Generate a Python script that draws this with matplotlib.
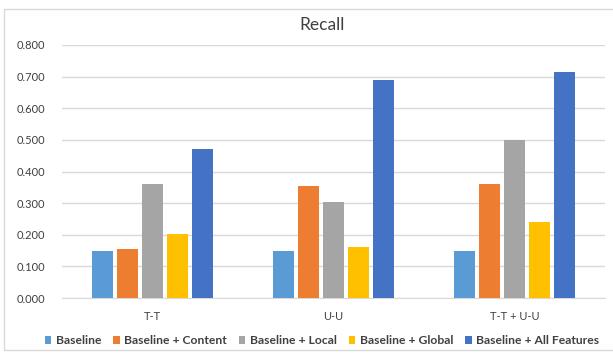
import matplotlib
matplotlib.use("Agg")
import matplotlib.pyplot as plt
import numpy as np
from matplotlib.patches import Rectangle

plt.rcParams['font.family'] = ['Lato', 'DejaVu Sans']

categories = ['T-T', 'U-U', 'T-T + U-U']
series = ['Baseline', 'Baseline + Content', 'Baseline + Local',
          'Baseline + Global', 'Baseline + All Features']
baseline = [0.150, 0.150, 0.150]
content = [0.155, 0.355, 0.362]
local = [0.360, 0.305, 0.500]
global_ = [0.202, 0.160, 0.240]
all_features = [0.470, 0.688, 0.713]
values = [baseline, content, local, global_, all_features]
colors = ['#5B9BD5', '#ED7D31', '#A5A5A5', '#FFC000', '#4472C4']

fig = plt.figure(figsize=(6.13, 3.54), dpi=100)
ax = fig.add_axes([0.101, 0.158, 0.886, 0.715])

x = np.arange(len(categories))
step = 0.138
width = 0.117
for i, (name, vals, c) in enumerate(zip(series, values, colors)):
    ax.bar(x + (i - 2) * step, vals, width=width, color=c, label=name, zorder=3)

ax.set_xlim(-0.5, 2.5)
ax.set_ylim(0, 0.8)
ax.set_yticks(np.arange(0, 0.81, 0.1))
ax.set_yticklabels(['%.3f' % v for v in np.arange(0, 0.81, 0.1)])
ax.set_xticks(x)
ax.set_xticklabels(categories)
ax.tick_params(axis='both', length=0, labelsize=8, colors='#404040')
ax.tick_params(axis='y', pad=12)
ax.tick_params(axis='x', pad=9)
ax.yaxis.grid(True, color='#D9D9D9', linewidth=1, zorder=0)
for s in ['top', 'right', 'left']:
    ax.spines[s].set_visible(False)
ax.spines['bottom'].set_color('#D9D9D9')

fig.text(0.525, 0.928, 'Recall', ha='center', va='center', fontsize=12.5, color='#404040')

leg = fig.legend(loc='center', bbox_to_anchor=(0.525, 0.037), ncol=5, frameon=False,
                 fontsize=8.7, handlelength=0.55, handleheight=0.55, handletextpad=0.35,
                 columnspacing=1.0, borderaxespad=0, borderpad=0)
for t in leg.get_texts():
    t.set_color('#404040')
    t.set_fontweight('bold')

fig.patches.append(Rectangle((0.0065, 0.01), 1.2, 0.965, transform=fig.transFigure,
                             fill=False, edgecolor='#D9D9D9', linewidth=1))

fig.savefig('out.png', dpi=100)
